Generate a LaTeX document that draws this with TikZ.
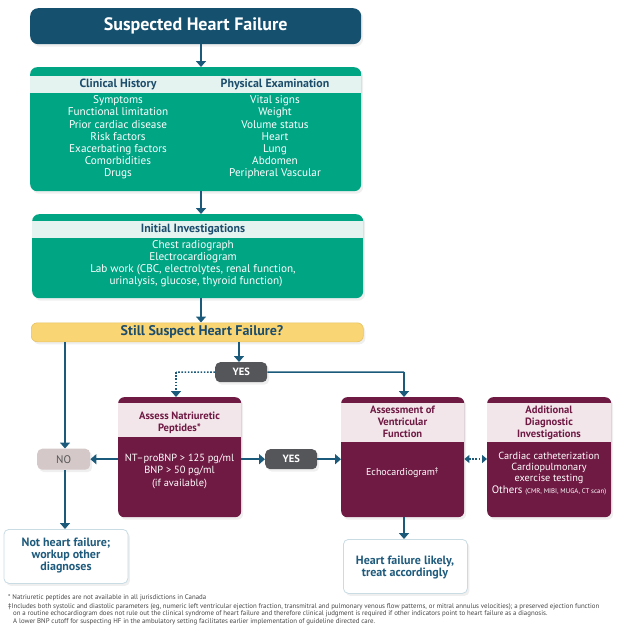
\documentclass[tikz,border=0pt]{standalone}
\usepackage{fontspec}
\setmainfont{PT Sans}
\usetikzlibrary{arrows.meta,shadows}
\definecolor{navy}{HTML}{15506F}
\definecolor{arrowc}{HTML}{1B5A7A}
\definecolor{grn}{HTML}{00A584}
\definecolor{grnhead}{HTML}{E4F3EF}
\definecolor{headtxt}{HTML}{1D4D6C}
\definecolor{yel}{HTML}{FAD573}
\definecolor{yelb}{HTML}{E6C266}
\definecolor{mar}{HTML}{6F1A43}
\definecolor{marhead}{HTML}{F3E6EB}
\definecolor{yesc}{HTML}{55565A}
\definecolor{noc}{HTML}{D5C8C8}
\definecolor{notxt}{HTML}{555555}
\definecolor{outb}{HTML}{C9DCE4}
\definecolor{outtxt}{HTML}{1F5B7D}
\definecolor{foot}{HTML}{444444}
\begin{document}
\begin{tikzpicture}[x=1pt,y=-1pt,
  shade/.style={drop shadow={opacity=0.13,shadow xshift=2pt,shadow yshift=-2.5pt}},
  boxbase/.style={anchor=north west,inner sep=0pt,shade},
  titlebox/.style={boxbase,fill=navy,rounded corners=8pt},
  grnbox/.style={boxbase,fill=grn,rounded corners=7pt},
  marbox/.style={boxbase,fill=mar,rounded corners=6pt},
  yelbox/.style={boxbase,fill=yel,draw=yelb,line width=0.6pt,rounded corners=6pt},
  yesbox/.style={boxbase,fill=yesc,rounded corners=5pt,text=white,font=\fontsize{10.5}{12}\selectfont\bfseries},
  nobox/.style={boxbase,fill=noc,rounded corners=5pt,text=notxt,font=\fontsize{11}{12}\selectfont},
  outbox/.style={boxbase,fill=white,draw=outb,line width=0.8pt,rounded corners=5pt},
  txt/.style={inner sep=0pt,text height=7.5pt,text depth=2pt},
  gw/.style={txt,text=white,font=\fontsize{11.2}{12}\selectfont},
  ghd/.style={txt,text=headtxt,font=\fontsize{11.9}{13}\selectfont\bfseries},
  mhd/.style={txt,text=mar,font=\fontsize{10.6}{12}\selectfont\bfseries},
  mw/.style={txt,text=white,font=\fontsize{10.4}{12}\selectfont},
  mws/.style={txt,text=white,font=\fontsize{10.3}{12}\selectfont},
  outt/.style={txt,text=outtxt,font=\fontsize{12}{13}\selectfont\bfseries},
  fn/.style={inner sep=0pt,anchor=base west,text=foot,font=\fontsize{6.85}{8}\selectfont},
  arr/.style={draw=arrowc,line width=1.5pt,-{Triangle[width=10pt,length=6pt]}},
  ln/.style={draw=arrowc,line width=1.5pt},
  dots/.style={draw=arrowc,line width=1.5pt,dash pattern=on 1.6pt off 1.6pt}
]
\useasboundingbox (0,0) rectangle (623,632);

% ---------- Title ----------
\node[titlebox,minimum width=331pt,minimum height=36pt] (title) at (30,8) {};
\node[inner sep=0pt,text=white,font=\fontsize{18}{20}\selectfont\bfseries] (titlet) at (title.center) {Suspected Heart Failure};

% ---------- Clinical history / physical examination ----------
\node[grnbox,minimum width=331pt,minimum height=124pt] (hist) at (30,67) {};
\fill[grnhead] (30,76) rectangle (361,93);
\node[ghd] (hch) at (118,84.5) {Clinical History};
\node[ghd] (hpe) at (275,84.5) {Physical Examination};
\foreach \t [count=\i] in {Symptoms,Functional limitation,Prior cardiac disease,Risk factors,Exacerbating factors,Comorbidities,Drugs}
  \node[gw] (ch\i) at (118,88.8+12.15*\i) {\t};
\foreach \t [count=\i] in {Vital signs,Weight,Volume status,Heart,Lung,Abdomen,Peripheral Vascular}
  \node[gw] (pe\i) at (275,88.8+12.15*\i) {\t};

% ---------- Initial investigations ----------
\node[grnbox,minimum width=331pt,minimum height=84pt] (init) at (32,214) {};
\fill[grnhead] (32,221) rectangle (363,238);
\node[ghd] (inith) at (193,229.5) {Initial Investigations};
\node[gw] (in1) at (193,246) {Chest radiograph};
\node[gw] (in2) at (193,258) {Electrocardiogram};
\node[gw] (in3) at (193,270) {Lab work (CBC, electrolytes, renal function,};
\node[gw] (in4) at (196,282) {urinalysis, glucose, thyroid function)};

% ---------- Still suspect ----------
\node[yelbox,minimum width=332pt,minimum height=19pt] (still) at (31,322.5) {};
\node[inner sep=0pt,text=headtxt,font=\fontsize{14}{16}\selectfont\bfseries] (stillt) at (202,332) {Still Suspect Heart Failure?};

% ---------- YES / NO ----------
\node[yesbox,minimum width=52pt,minimum height=20pt] (yes1) at (215,362) {YES};
\node[yesbox,minimum width=52pt,minimum height=20pt] (yes2) at (265,449) {YES};
\node[nobox,minimum width=53pt,minimum height=21pt] (no) at (37,448.5) {NO};

% ---------- Assess natriuretic peptides ----------
\node[marbox,minimum width=123pt,minimum height=120pt] (np) at (118,397) {};
\fill[marhead] (118,403) rectangle (241,437);
\node[mhd] (nph1) at (179.5,417) {Assess Natriuretic};
\node[mhd] (nph2) at (179.5,429) {Peptides*};
\node[mw] (np1) at (179.5,458.5) {NT–proBNP > 125 pg/ml};
\node[mw] (np2) at (179.5,471) {BNP > 50 pg/ml};
\node[mw] (np3) at (179.5,483.5) {(if available)};

% ---------- Assessment of ventricular function ----------
\node[marbox,minimum width=123pt,minimum height=120pt] (av) at (341,397) {};
\fill[marhead] (341,403) rectangle (464,442);
\node[mhd] (avh1) at (402.5,410.5) {Assessment of};
\node[mhd] (avh2) at (402.5,422.5) {Ventricular};
\node[mhd] (avh3) at (402.5,434.5) {Function};
\node[mw,font=\fontsize{10}{12}\selectfont] (av1) at (402.5,473) {Echocardiogram\textsuperscript{‡}};

% ---------- Additional diagnostic investigations ----------
\node[marbox,minimum width=124pt,minimum height=120pt] (add) at (487,397) {};
\fill[marhead] (487,403) rectangle (611,442);
\node[mhd] (adh1) at (549,410.5) {Additional};
\node[mhd] (adh2) at (549,422.5) {Diagnostic};
\node[mhd] (adh3) at (549,434.5) {Investigations};
\node[mws] (ad1) at (549,457) {Cardiac catheterization};
\node[mws] (ad2) at (549,468) {Cardiopulmonary};
\node[mws] (ad3) at (549,479) {exercise testing};
\node[mws] (ad4) at (549,490.5) {{\fontsize{10.8}{12}\selectfont Others} {\fontsize{6.8}{8}\selectfont(CMR, MIBI, MUGA, CT scan)}};

% ---------- Outcomes ----------
\node[outbox,minimum width=124pt,minimum height=54pt] (nothf) at (3.5,529) {};
\node[outt] (nt1) at (66,544) {Not heart failure;};
\node[outt] (nt2) at (66,556) {workup other};
\node[outt] (nt3) at (66,568) {diagnoses};
\node[outbox,minimum width=124pt,minimum height=54pt] (hfl) at (343,539) {};
\node[outt] (hf1) at (405,562) {Heart failure likely,};
\node[outt] (hf2) at (405,574) {treat accordingly};

% ---------- Connectors ----------
\draw[arr] (title.south -| 201,0) -- (hist.north -| 201,0);
\draw[arr] (hist.south -| 201,0) -- (init.north -| 201,0);
\draw[arr] (init.south -| 201,0) -- (still.north -| 201,0);
\draw[arr] (still.south -| 65,0) -- (no.north -| 65,0);
\draw[arr] (still.south -| 239,0) -- (yes1.north -| 239,0);
\coordinate (dl) at (176,372);
\draw[dots] (yes1.west) -- (dl);
\draw[dots,-{Triangle[width=10pt,length=6pt]}] (dl) -- (np.north -| dl);
\coordinate (rl) at (404,372);
\draw[ln] (yes1.east) -- (rl);
\draw[arr] (rl) -- (av.north -| rl);
\draw[arr] (np.west |- no.east) -- (no.east);
\draw[arr] (np.east |- yes2.west) -- (yes2.west);
\draw[arr] (yes2.east) -- (av.west |- yes2.east);
\draw[dots,{Triangle[width=8pt,length=5pt]}-{Triangle[width=8pt,length=5pt]}] (av.east |- 0,459) -- (add.west |- 0,459);
\draw[arr] (av.south -| 404,0) -- (hfl.north -| 404,0);
\draw[arr] (no.south -| 65,0) -- (nothf.north -| 65,0);

% ---------- Footnotes ----------
\node[fn] (f1) at (8,599) {* Natriuretic peptides are not available in all jurisdictions in Canada};
\node[fn] (f2) at (8,608) {‡Includes both systolic and diastolic parameters (eg, numeric left ventricular ejection fraction, transmitral and pulmonary venous flow patterns, or mitral annulus velocities); a preserved ejection function};
\node[fn] (f3) at (13,615) {on a routine echocardiogram does not rule out the clinical syndrome of heart failure and therefore clinical judgment is required if other indicators point to heart failure as a diagnosis.};
\node[fn] (f4) at (13,623.5) {A lower BNP cutoff for suspecting HF in the ambulatory setting facilitates earlier implementation of guideline directed care.};
\end{tikzpicture}
\end{document}
